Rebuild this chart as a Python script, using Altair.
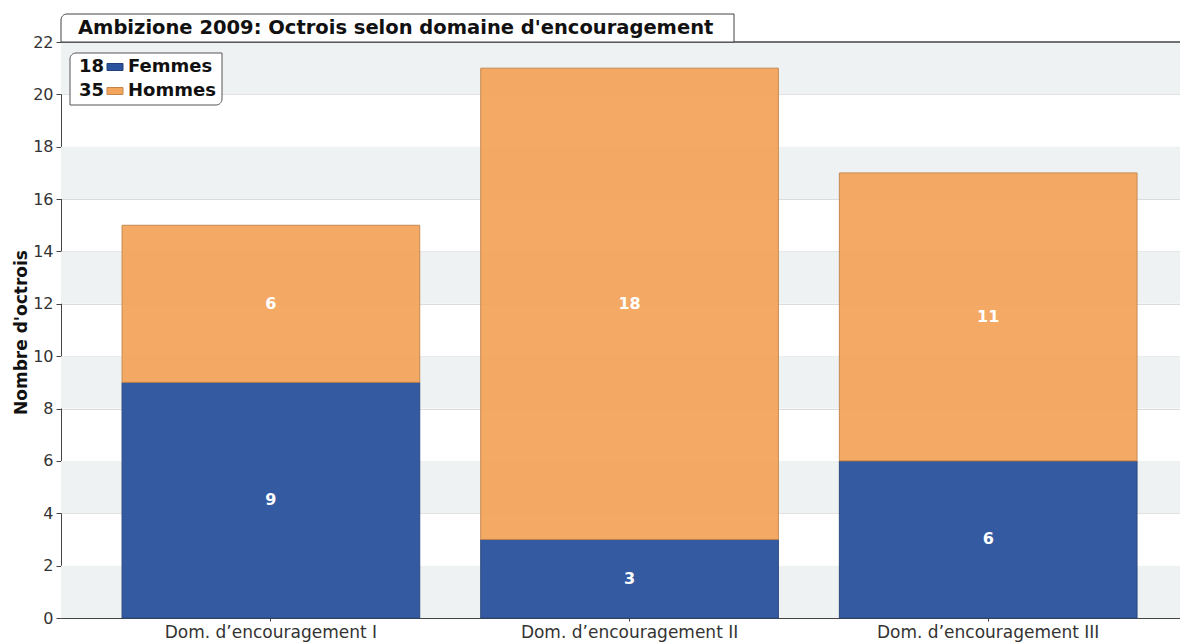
import altair as alt
import pandas as pd

categories = ["Dom. d\u2019encouragement I", "Dom. d\u2019encouragement II", "Dom. d\u2019encouragement III"]
series = ["Femmes", "Hommes"]
femmes = [9, 3, 6]
hommes = [6, 18, 11]
y_ticks = list(range(0, 23, 2))
title_text = "Ambizione 2009: Octrois selon domaine d'encouragement"
y_title = "Nombre d'octrois"
colors = ["#2a529d", "#f4a55c"]
strokes = ["#22407a", "#c4854a"]

rows = []
for c, f, h in zip(categories, femmes, hommes):
    rows.append({"cat": c, "serie": "Femmes", "v": f, "y0": 0, "y1": f})
    rows.append({"cat": c, "serie": "Hommes", "v": h, "y0": f, "y1": f + h})
df = pd.DataFrame(rows)
df["mid"] = (df["y0"] + df["y1"]) / 2

bands = pd.DataFrame({"b0": y_ticks[0:-1:2], "b1": [t + 2 for t in y_ticks[0:-1:2]]})

FONT = "DejaVu Sans"
W, H = 1119, 576

xscale = alt.Scale(domain=categories, paddingInner=0.17, paddingOuter=0.145, align=0.587)
yscale = alt.Scale(domain=[0, 22], nice=False)

bg = alt.Chart(bands).mark_rect(fill="#eff2f3").encode(
    y=alt.Y("b0:Q", scale=yscale, axis=alt.Axis(values=y_ticks, title=y_title, grid=True,
            gridColor="#dcdcdc", gridWidth=1, domainColor="#444", tickColor="#444", tickSize=5,
            labelFont=FONT, labelFontSize=16, labelColor="#333", labelPadding=3,
            titleFont=FONT, titleFontSize=17, titleFontWeight="bold", titleColor="#111",
            titlePadding=2, titleY=H / 2 + 2)),
    y2="b1:Q",
    x=alt.value(0), x2=alt.value(W),
)

bars = alt.Chart(df).mark_bar(opacity=0.95, strokeWidth=1).encode(
    x=alt.X("cat:N", scale=xscale, sort=categories, axis=alt.Axis(title=None, labelAngle=0,
            domainColor="#444", tickColor="#444", tickSize=3, labelFont=FONT, labelFontSize=17,
            labelColor="#333", labelPadding=3, labelLimit=0, labelBaseline="top")),
    y=alt.Y("y0:Q", scale=yscale, axis=None),
    y2="y1:Q",
    color=alt.Color("serie:N", scale=alt.Scale(domain=series, range=colors), legend=None),
    stroke=alt.Stroke("serie:N", scale=alt.Scale(domain=series, range=strokes), legend=None),
)

labels = alt.Chart(df).mark_text(color="white", font=FONT, fontSize=16, fontWeight="bold",
                                 baseline="middle").encode(
    x=alt.X("cat:N", scale=xscale, sort=categories),
    y=alt.Y("mid:Q", scale=yscale, axis=None),
    text="v:Q",
)

# title box
title_box = alt.Chart(pd.DataFrame({"a": [0]})).mark_rect(
    fill="white", stroke="#444", strokeWidth=1, cornerRadiusTopLeft=6, clip=False
).encode(x=alt.value(0), x2=alt.value(673), y=alt.value(-28), y2=alt.value(0))
title_txt = alt.Chart(pd.DataFrame({"t": [title_text]})).mark_text(
    font=FONT, fontSize=19.5, fontWeight="bold", color="#111", align="left", baseline="alphabetic", clip=False
).encode(x=alt.value(17), y=alt.value(-8), text="t:N")

# legend
totals = [sum(femmes), sum(hommes)]
leg_df = pd.DataFrame({"serie": series, "total": [str(t) for t in totals],
                       "row": [0, 1]})
leg_box = alt.Chart(pd.DataFrame({"a": [0]})).mark_rect(
    fill="white", stroke="#555", strokeWidth=1, cornerRadiusTopLeft=6, cornerRadiusBottomRight=6
).encode(x=alt.value(9), x2=alt.value(161), y=alt.value(11), y2=alt.value(63))
row_scale = alt.Scale(domain=[0, 1], range=[25, 49])
leg_num = alt.Chart(leg_df).mark_text(font=FONT, fontSize=18, fontWeight="bold", color="#111",
                                      align="left", baseline="middle").encode(
    x=alt.value(18), y=alt.Y("row:Q", scale=row_scale, axis=None), text="total:N")
leg_sym = alt.Chart(leg_df).mark_rect(strokeWidth=1, height=7).encode(
    x=alt.value(46), x2=alt.value(62), y=alt.Y("row:Q", scale=row_scale, axis=None),
    color=alt.Color("serie:N", scale=alt.Scale(domain=series, range=colors), legend=None),
    stroke=alt.Stroke("serie:N", scale=alt.Scale(domain=series, range=strokes), legend=None))
leg_lab = alt.Chart(leg_df).mark_text(font=FONT, fontSize=18, fontWeight="bold", color="#111",
                                      align="left", baseline="middle").encode(
    x=alt.value(67), y=alt.Y("row:Q", scale=row_scale, axis=None), text="serie:N")

top_rule = alt.Chart(pd.DataFrame({"a": [0]})).mark_rule(color="#444", strokeWidth=1.5).encode(
    x=alt.value(0), x2=alt.value(W), y=alt.value(0))

chart = alt.layer(
    bg, bars, labels, top_rule, title_box, title_txt,
    alt.layer(leg_box, leg_num, leg_sym, leg_lab)
).resolve_scale(y="independent").properties(
    width=W, height=H,
    autosize=alt.AutoSizeParams(type="none"),
    padding={"left": 53, "top": 34, "right": 0, "bottom": 26},
).configure_view(stroke=None).configure(background="white")

chart.save("out.html", embed_options={"renderer": "svg", "actions": False})
